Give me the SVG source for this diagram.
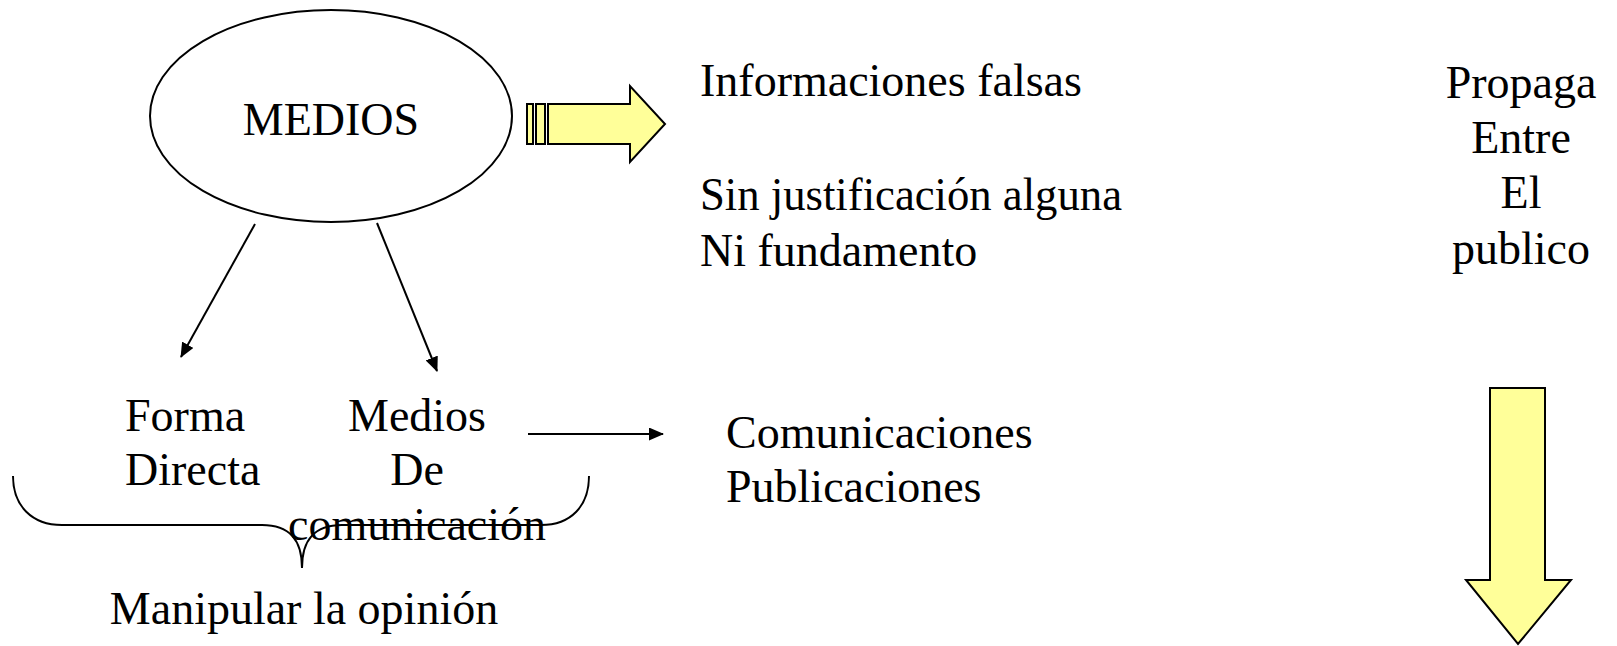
<svg xmlns="http://www.w3.org/2000/svg" width="1617" height="646" viewBox="0 0 1617 646">
<defs>
<style>
text{font-family:"Liberation Serif","DejaVu Serif",serif;font-size:46px;fill:#000}
.c{text-anchor:middle}
.ln{stroke:#000;stroke-width:2;fill:none}
.yl{fill:#ffff99;stroke:#000;stroke-width:2;stroke-linejoin:miter}
</style>
<marker id="ah" viewBox="0 0 15 13" refX="14" refY="6.5" markerWidth="15" markerHeight="13" markerUnits="userSpaceOnUse" orient="auto">
<path d="M0,0 L15,6.5 L0,13 Z" fill="#000"/>
</marker>
</defs>
<rect width="1617" height="646" fill="#fff"/>
<g id="medios">
<ellipse cx="331" cy="116" rx="181" ry="106" fill="#fff" stroke="#000" stroke-width="2"/>
<text class="c" x="331" y="135">MEDIOS</text>
</g>
<g id="arrow-right">
<rect class="yl" x="527" y="104" width="6" height="40"/>
<rect class="yl" x="536" y="104" width="9" height="40"/>
<path class="yl" d="M548,104 L630,104 L630,86 L665,124 L630,162 L630,144 L548,144 Z"/>
</g>
<g id="info">
<text x="700" y="96">Informaciones falsas</text>
<text x="700" y="210" textLength="422" lengthAdjust="spacingAndGlyphs">Sin justificación alguna</text>
<text x="700" y="266">Ni fundamento</text>
</g>
<g id="propaga">
<text class="c" x="1521" y="98">Propaga</text>
<text class="c" x="1521" y="153">Entre</text>
<text class="c" x="1521" y="208">El</text>
<text class="c" x="1521" y="264">publico</text>
</g>
<g id="arrow-down">
<path class="yl" d="M1490,388 L1545,388 L1545,580 L1571,580 L1518,644 L1466,580 L1490,580 Z"/>
</g>
<g id="forma">
<text x="125" y="431">Forma</text>
<text x="125" y="485">Directa</text>
</g>
<g id="medios-com">
<text class="c" x="417" y="431">Medios</text>
<text class="c" x="417" y="485">De</text>
<text class="c" x="417" y="540">comunicación</text>
</g>
<g id="com">
<text x="726" y="448">Comunicaciones</text>
<text x="726" y="502">Publicaciones</text>
</g>
<g id="brace">
<path class="ln" d="M13,476 C13,506 32,525 62,525 L262,525 C290,525 302,540 302,568 C302,540 314,525 342,525 L541,525 C571,525 589,506 589,476"/>
</g>
<g id="manipular">
<text class="c" x="304" y="624">Manipular la opinión</text>
</g>
<g id="connectors">
<line class="ln" x1="255" y1="224" x2="181" y2="357" marker-end="url(#ah)"/>
<line class="ln" x1="377" y1="223" x2="437" y2="371" marker-end="url(#ah)"/>
<line class="ln" x1="528" y1="434" x2="663" y2="434" marker-end="url(#ah)"/>
</g>
</svg>
